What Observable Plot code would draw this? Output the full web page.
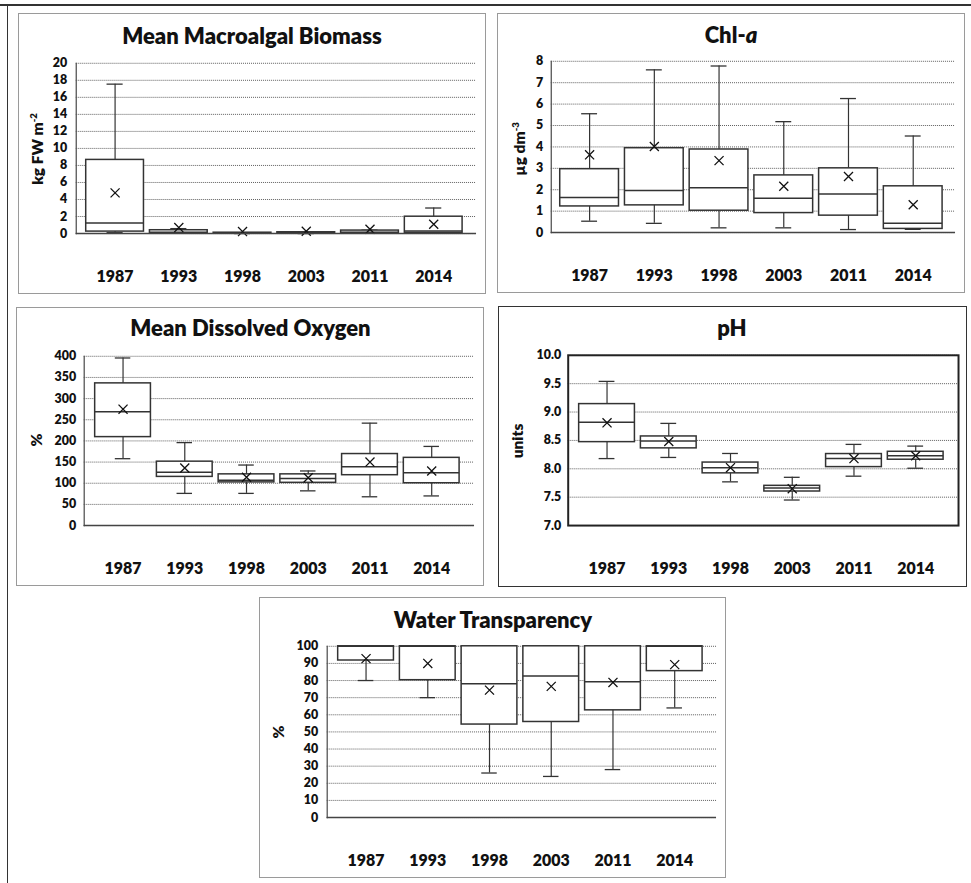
<!DOCTYPE html>
<html><head><meta charset="utf-8">
<script src="https://cdn.jsdelivr.net/npm/d3@7"></script>
<script src="https://cdn.jsdelivr.net/npm/@observablehq/plot@0.6"></script>
<style>
body{margin:0;background:#fff;font-family:Lato,"Open Sans",sans-serif;}
#page{position:relative;width:971px;height:883px;overflow:hidden;background:#fff}
.panel{position:absolute;box-sizing:border-box;border:1px solid #9a9a9a;}
.panel.dark{border:1.5px solid #333;}
.panel svg{position:absolute;left:-1px;top:-1px;overflow:visible}
.title{position:absolute;font-weight:800;font-size:22px;color:#111;transform:translate(-50%,-50%);white-space:nowrap;line-height:1.2}
.ytitle{position:absolute;font-weight:800;font-size:15.5px;color:#111;transform:translate(-50%,-50%) rotate(-90deg);white-space:nowrap;line-height:1.2}
.ytitle sup{font-size:9.5px;vertical-align:6px;line-height:0}
.line{position:absolute;background:#333}
</style></head>
<body><div id="page"></div>
<script>
const years = ["1987","1993","1998","2003","2011","2014"];

// Mean Macroalgal Biomass (kg FW m-2)
const algaeMin    = [0.10, 0.02, 0.00, 0.00, 0.02, 0.05];
const algaeQ1     = [0.23, 0.04, 0.00, 0.02, 0.05, 0.08];
const algaeMedian = [1.25, 0.15, 0.03, 0.06, 0.15, 0.31];
const algaeQ3     = [8.65, 0.39, 0.10, 0.15, 0.35, 1.98];
const algaeMax    = [17.55, 0.58, 0.10, 0.15, 0.40, 3.00];
const algaeMean   = [4.78, 0.70, 0.23, 0.27, 0.50, 1.09];

// Chl-a (µg dm-3)
const chlMin    = [0.53, 0.43, 0.22, 0.22, 0.14, 0.15];
const chlQ1     = [1.22, 1.27, 1.02, 0.91, 0.79, 0.17];
const chlMedian = [1.64, 1.97, 2.09, 1.60, 1.80, 0.43];
const chlQ3     = [2.96, 3.94, 3.88, 2.67, 3.00, 2.16];
const chlMax    = [5.55, 7.60, 7.78, 5.18, 6.26, 4.51];
const chlMean   = [3.63, 4.02, 3.36, 2.16, 2.62, 1.30];

// Mean Dissolved Oxygen (%)
const doMin    = [158, 76, 76, 82, 68, 70];
const doQ1     = [209, 115, 102, 101, 119, 100];
const doMedian = [269, 126, 107, 111, 139, 125];
const doQ3     = [336, 151, 121, 121, 169, 160];
const doMax    = [396, 196, 143, 129, 242, 187];
const doMean   = [275, 136, 114, 113, 150, 129];

// pH (units)
const phMin    = [8.18, 8.20, 7.77, 7.45, 7.87, 8.01];
const phQ1     = [8.47, 8.36, 7.92, 7.60, 8.03, 8.16];
const phMedian = [8.82, 8.49, 8.02, 7.66, 8.18, 8.23];
const phQ3     = [9.14, 8.57, 8.11, 7.70, 8.26, 8.30];
const phMax    = [9.54, 8.80, 8.27, 7.85, 8.43, 8.40];
const phMean   = [8.81, 8.48, 8.02, 7.65, 8.18, 8.23];

// Water Transparency (%)
const wtMin    = [80, 70, 26, 24, 28, 64];
const wtQ1     = [91.7, 80.2, 54.3, 55.8, 62.6, 85.5];
const wtMedian = [100, 100, 78.1, 82.6, 79.3, 100];
const wtQ3     = [100, 100, 100, 100, 100, 100];
const wtMax    = [100, 100, 100, 100, 100, 100];
const wtMean   = [92.8, 90, 74.4, 76.6, 78.9, 89.3];

const algaeTicks = [0,2,4,6,8,10,12,14,16,18,20];
const chlTicks = [0,1,2,3,4,5,6,7,8];
const doTicks = [0,50,100,150,200,250,300,350,400];
const phTicks = [7.0,7.5,8.0,8.5,9.0,9.5,10.0];
const wtTicks = [0,10,20,30,40,50,60,70,80,90,100];

const page = document.getElementById("page");
function addDiv(cls, x, y, html) {
  const d = document.createElement("div");
  d.className = cls; d.style.left = x + "px"; d.style.top = y + "px"; d.innerHTML = html;
  page.appendChild(d); return d;
}
function addLine(x, y, w, h) {
  const d = document.createElement("div");
  d.className = "line";
  Object.assign(d.style, {left: x+"px", top: y+"px", width: w+"px", height: h+"px"});
  page.appendChild(d);
}

function panel(o) {
  const rows = years.map((yr, i) => ({year: yr, min: o.mn[i], q1: o.q1[i], median: o.md[i], q3: o.q3[i], max: o.mx[i], mean: o.mean[i]}));
  const wrap = document.createElement("div");
  wrap.className = "panel" + (o.dark ? " dark" : "");
  Object.assign(wrap.style, {left: o.left+"px", top: o.top+"px", width: o.width+"px", height: o.height+"px"});
  page.appendChild(wrap);
  const bw = (o.xr[1]-o.xr[0]) / (years.length - 0.1);
  const capInset = (bw*0.9 - 16) / 2;
  const stroke = "#333";
  const marks = [
    Plot.gridY(o.ticks, {stroke: "#5e5e5e", strokeOpacity: 1, strokeWidth: 1, strokeDasharray: "1,1"}),
    Plot.ruleX(rows, {x: "year", y1: "min", y2: "max", stroke, strokeWidth: 1.2}),
    Plot.tickY(rows, {x: "year", y: "min", stroke, strokeWidth: 1.3, insetLeft: capInset, insetRight: capInset}),
    Plot.tickY(rows, {x: "year", y: "max", stroke, strokeWidth: 1.3, insetLeft: capInset, insetRight: capInset}),
    Plot.barY(rows, {x: "year", y1: "q1", y2: "q3", fill: "white", stroke, strokeWidth: 1.5}),
    Plot.tickY(rows, {x: "year", y: "median", stroke, strokeWidth: 1.5}),
    Plot.dot(rows, {x: "year", y: "mean", symbol: "times", r: 4.2, stroke: "#111", strokeWidth: 1.3}),
    Plot.axisY(o.ticks, {tickSize: 0, tickPadding: o.tp, tickFormat: o.fmt, fontSize: 12.5, fontWeight: 800, label: null}),
    Plot.axisX({tickSize: 0, tickPadding: 37, fontSize: 16, fontWeight: 800, label: null})
  ];
  if (o.dark) marks.push(Plot.frame({stroke: "#222", strokeWidth: 2}));
  else {
    marks.push(Plot.frame({anchor: "left", stroke: "#555", strokeWidth: 1.3}));
    marks.push(Plot.ruleY([o.domain[0]], {stroke: "#444", strokeWidth: 1.5}));
  }
  const svg = Plot.plot({
    width: o.width, height: o.height,
    marginLeft: o.ml, marginRight: o.mr, marginTop: o.mt, marginBottom: o.mb,
    style: {fontFamily: "Lato, 'Open Sans', sans-serif", color: "#111", background: "transparent", overflow: "visible"},
    x: {domain: years, range: o.xr, paddingInner: 0.1, paddingOuter: 0},
    y: {domain: o.domain},
    marks
  });
  wrap.appendChild(svg);
  addDiv("title", o.tx, o.ty, o.title);
  addDiv("ytitle", o.yx, o.yy, o.ylabel);
}

// outer lines
addLine(0, 4, 971, 1.5);
addLine(6.5, 4, 1.5, 879);

panel({left: 18, top: 13, width: 468, height: 281, ml: 58, mr: 8, mt: 50, mb: 60, xr: [67, 446], tp: 9,
  domain: [0, 20], ticks: algaeTicks, fmt: d => d,
  mn: algaeMin, q1: algaeQ1, md: algaeMedian, q3: algaeQ3, mx: algaeMax, mean: algaeMean,
  title: "Mean Macroalgal Biomass", tx: 252, ty: 35.5, ylabel: "kg FW m<sup>-2</sup>", yx: 37, yy: 149});

panel({left: 497, top: 13, width: 468, height: 280, ml: 54, mr: 8, mt: 48, mb: 60, xr: [61, 448], tp: 8,
  domain: [0, 8], ticks: chlTicks, fmt: d => d,
  mn: chlMin, q1: chlQ1, md: chlMedian, q3: chlQ3, mx: chlMax, mean: chlMean,
  title: "Chl-<i>a</i>", tx: 731, ty: 34.5, ylabel: "µg dm<sup>-3</sup>", yx: 519, yy: 149});

panel({left: 16, top: 307, width: 468, height: 279, ml: 68, mr: 8, mt: 49, mb: 60, xr: [77, 447], tp: 8,
  domain: [0, 400], ticks: doTicks, fmt: d => d,
  mn: doMin, q1: doQ1, md: doMedian, q3: doQ3, mx: doMax, mean: doMean,
  title: "Mean Dissolved Oxygen", tx: 250.5, ty: 328.3, ylabel: "%", yx: 36, yy: 440});

panel({left: 498, top: 306, width: 469, height: 281, ml: 70, mr: 7, mt: 49, mb: 61, xr: [80, 448], tp: 7, dark: true,
  domain: [7, 10], ticks: phTicks, fmt: d => d.toFixed(1),
  mn: phMin, q1: phQ1, md: phMedian, q3: phQ3, mx: phMax, mean: phMean,
  title: "pH", tx: 732, ty: 328, ylabel: "units", yx: 517, yy: 441});

panel({left: 259, top: 597, width: 467, height: 281, ml: 68, mr: 8, mt: 49, mb: 60, xr: [77, 447], tp: 9,
  domain: [0, 100], ticks: wtTicks, fmt: d => d,
  mn: wtMin, q1: wtQ1, md: wtMedian, q3: wtQ3, mx: wtMax, mean: wtMean,
  title: "Water Transparency", tx: 493, ty: 619.7, ylabel: "%", yx: 278, yy: 732});
</script>
</body></html>
